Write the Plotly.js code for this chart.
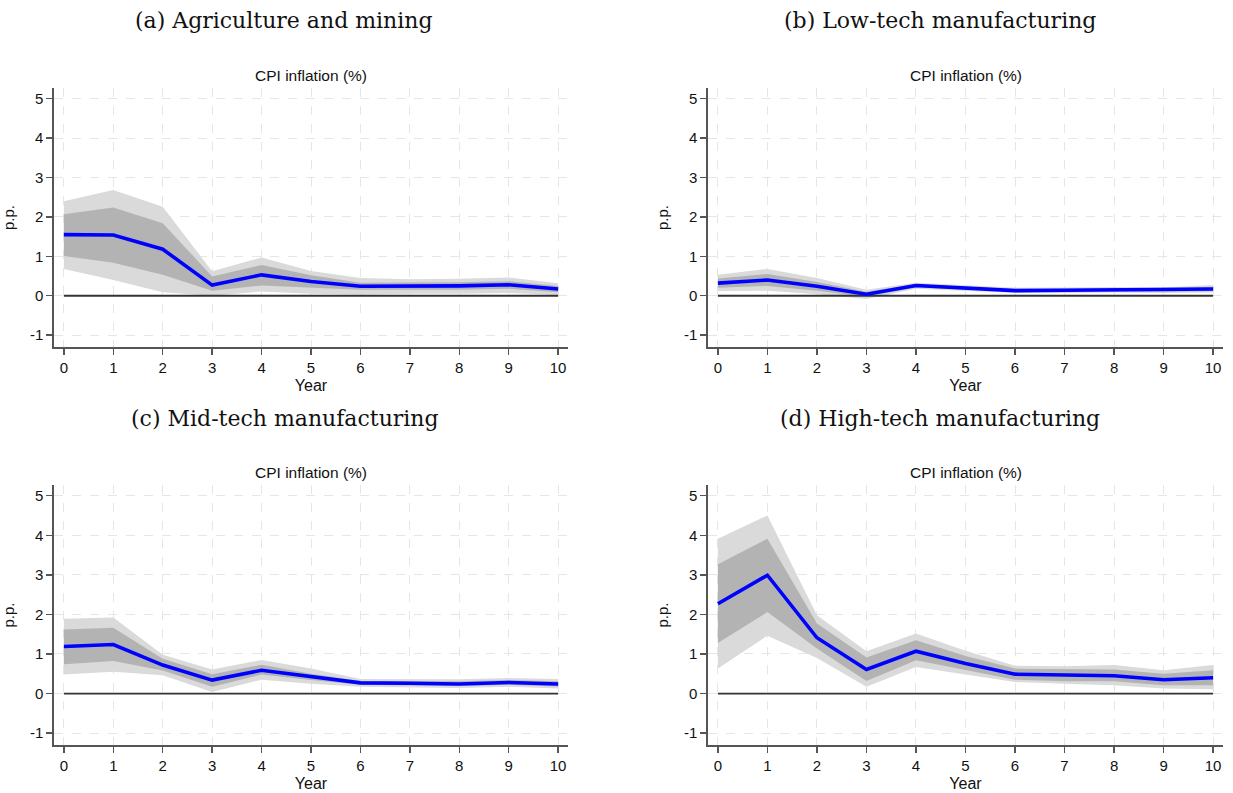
<!DOCTYPE html>
<html>
<head>
<meta charset="utf-8">
<script src="https://cdn.plot.ly/plotly-3.0.1.min.js"></script>
<style>html,body{margin:0;padding:0;background:#fff;}#chart{width:1233px;height:793px;}</style>
</head>
<body>
<div id="chart"></div>
<script>
const years = [0,1,2,3,4,5,6,7,8,9,10];
const yTicks = [-1,0,1,2,3,4,5];
const yTickText = ["-1","0","1","2","3","4","5"];
const panelTitles = ["(a) Agriculture and mining","(b) Low-tech manufacturing","(c) Mid-tech manufacturing","(d) High-tech manufacturing"];
const subTitle = "CPI inflation (%)";
const xLabel = "Year";
const yLabel = "p.p.";

// (a) Agriculture and mining
const aLine   = [1.55,1.54,1.18,0.27,0.53,0.36,0.24,0.24,0.25,0.28,0.17];
const aInLo   = [1.01,0.84,0.53,0.13,0.26,0.20,0.15,0.15,0.15,0.18,0.09];
const aInHi   = [2.07,2.24,1.84,0.49,0.78,0.52,0.33,0.33,0.34,0.37,0.25];
const aOutLo  = [0.68,0.40,0.09,0.00,0.11,0.05,0.03,0.05,0.05,0.07,0.02];
const aOutHi  = [2.40,2.68,2.26,0.62,0.97,0.63,0.45,0.42,0.43,0.46,0.32];
// (b) Low-tech manufacturing
const bLine   = [0.32,0.40,0.24,0.04,0.26,0.20,0.13,0.14,0.15,0.14,0.17];
const bInLo   = [0.20,0.25,0.13,-0.02,0.21,0.16,0.10,0.10,0.11,0.10,0.12];
const bInHi   = [0.44,0.55,0.35,0.10,0.30,0.23,0.17,0.18,0.19,0.18,0.22];
const bOutLo  = [0.12,0.13,0.04,-0.08,0.18,0.13,0.07,0.07,0.08,0.07,0.08];
const bOutHi  = [0.53,0.68,0.45,0.15,0.33,0.26,0.20,0.21,0.22,0.21,0.27];
// (c) Mid-tech manufacturing
const cLine   = [1.19,1.24,0.72,0.34,0.59,0.42,0.27,0.26,0.24,0.28,0.24];
const cInLo   = [0.74,0.82,0.58,0.17,0.48,0.34,0.22,0.20,0.19,0.22,0.18];
const cInHi   = [1.62,1.66,0.88,0.49,0.73,0.50,0.32,0.32,0.31,0.34,0.31];
const cOutLo  = [0.48,0.55,0.46,0.04,0.35,0.25,0.17,0.15,0.14,0.17,0.13];
const cOutHi  = [1.89,1.92,0.98,0.61,0.85,0.63,0.37,0.37,0.36,0.39,0.37];
// (d) High-tech manufacturing
const dLine   = [2.27,2.99,1.41,0.61,1.07,0.76,0.49,0.46,0.45,0.35,0.40];
const dInLo   = [1.28,2.06,1.14,0.32,0.84,0.60,0.35,0.31,0.31,0.21,0.21];
const dInHi   = [3.27,3.91,1.77,0.91,1.35,0.95,0.63,0.62,0.61,0.50,0.59];
const dOutLo  = [0.63,1.46,0.90,0.17,0.67,0.48,0.29,0.25,0.21,0.13,0.11];
const dOutHi  = [3.91,4.50,1.98,1.07,1.52,1.08,0.70,0.69,0.72,0.59,0.72];

const panels = [
  {line:aLine,inLo:aInLo,inHi:aInHi,outLo:aOutLo,outHi:aOutHi},
  {line:bLine,inLo:bInLo,inHi:bInHi,outLo:bOutLo,outHi:bOutHi},
  {line:cLine,inLo:cInLo,inHi:cInHi,outLo:cOutLo,outHi:cOutHi},
  {line:dLine,inLo:dInLo,inHi:dInHi,outLo:dOutLo,outHi:dOutHi}
];

const W = 1233, H = 793;
// pixel boxes of plot areas [left,right,top,bottom]
const boxes = [
  [54,568,88,347],
  [708,1223,88,347],
  [54,568,485,745],
  [708,1223,485,745]
];
const titleCenters = [[284,20],[940,20],[285,418],[940,418]];

const outerCol = '#dadada', innerCol = '#b3b3b3';
const traces = [];
const layout = {
  width: W, height: H,
  margin: {l:0,r:0,t:0,b:0},
  paper_bgcolor: '#fff', plot_bgcolor: '#fff',
  showlegend: false,
  font: {family: 'Liberation Sans, Arial, sans-serif', color: '#222'},
  annotations: []
};

panels.forEach((p, i) => {
  const n = i === 0 ? '' : String(i+1);
  const xa = 'x' + n, ya = 'y' + n;
  const b = boxes[i];
  const zeros = years.map(() => 0);
  const add = (y, opts) => traces.push(Object.assign({x: years, y: y, xaxis: xa, yaxis: ya, type: 'scatter', mode: 'lines', hoverinfo: 'skip'}, opts));
  add(p.outLo, {line: {width: 0, color: outerCol}});
  add(p.outHi, {line: {width: 0, color: outerCol}, fill: 'tonexty', fillcolor: outerCol});
  add(p.inLo, {line: {width: 0, color: innerCol}});
  add(p.inHi, {line: {width: 0, color: innerCol}, fill: 'tonexty', fillcolor: innerCol});
  add(zeros, {line: {width: 1.8, color: '#333'}});
  add(p.line, {line: {width: 3.6, color: '#0000ff'}});

  layout['xaxis' + n] = {
    domain: [b[0]/W, b[1]/W], anchor: ya,
    range: [-0.2, 10.2], tickmode: 'array', tickvals: years,
    showline: true, linecolor: '#555', linewidth: 1.6,
    ticks: 'outside', ticklen: 6, tickcolor: '#555', tickwidth: 1.4,
    showgrid: true, gridcolor: '#e6e6e6', griddash: 'dash', gridwidth: 1,
    zeroline: false, tickfont: {size: 15, color: '#111'},
    title: {text: xLabel, font: {size: 16, color: '#111'}, standoff: 5}
  };
  layout['yaxis' + n] = {
    domain: [1 - b[3]/H, 1 - b[2]/H], anchor: xa,
    range: [-1.3, 5.27], tickmode: 'array', tickvals: yTicks, ticktext: yTickText,
    showline: true, linecolor: '#555', linewidth: 1.6,
    ticks: 'outside', ticklen: 6, tickcolor: '#555', tickwidth: 1.4,
    showgrid: true, gridcolor: '#e6e6e6', griddash: 'dash', gridwidth: 1,
    zeroline: false, tickfont: {size: 15, color: '#111'},
    title: {text: yLabel, font: {size: 15, color: '#111'}, standoff: 12}
  };
  layout.annotations.push({
    xref: 'paper', yref: 'paper', x: (b[0]+b[1])/2/W, y: 1 - (b[2]-13)/H,
    text: subTitle, showarrow: false, xanchor: 'center', yanchor: 'middle',
    font: {size: 15.5, color: '#111'}
  });
  layout.annotations.push({
    xref: 'paper', yref: 'paper', x: titleCenters[i][0]/W, y: 1 - titleCenters[i][1]/H,
    text: panelTitles[i], showarrow: false, xanchor: 'center', yanchor: 'middle',
    font: {size: 22, color: '#111', family: 'DejaVu Serif, Liberation Serif, serif'}
  });
});

Plotly.newPlot('chart', traces, layout, {displayModeBar: false, staticPlot: true});
</script>
</body>
</html>
